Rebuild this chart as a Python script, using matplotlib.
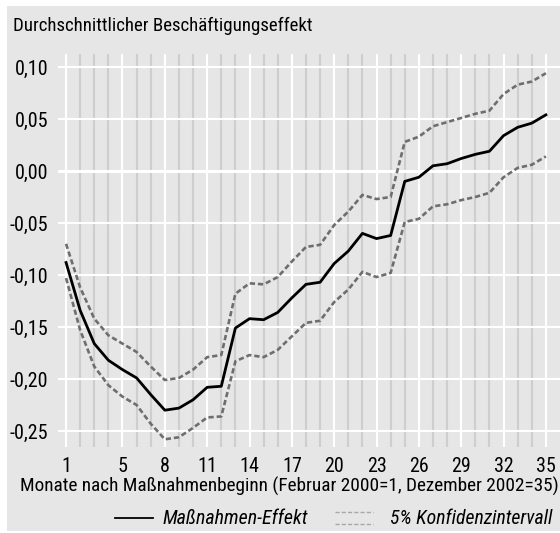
import matplotlib
matplotlib.use('Agg')
import matplotlib.pyplot as plt
from matplotlib import font_manager
from matplotlib.lines import Line2D
from matplotlib.patches import Rectangle

# schmale Schrift suchen, sonst Liberation Sans
available = {f.name for f in font_manager.fontManager.ttflist}
family = 'Liberation Sans'
for name in ['Liberation Sans Narrow', 'DejaVu Sans Condensed', 'Roboto Condensed',
             'Open Sans Condensed', 'Noto Sans Condensed']:
    if name in available:
        family = name
        break
plt.rcParams['font.family'] = [family, 'DejaVu Sans']

# Monate nach Maßnahmenbeginn
months = list(range(1, 36))

# durchschnittlicher Beschäftigungseffekt
effect = [-0.088, -0.134, -0.166, -0.182, -0.191, -0.199, -0.215, -0.230, -0.228, -0.220,
          -0.208, -0.207, -0.151, -0.142, -0.143, -0.136, -0.122, -0.109, -0.107, -0.089,
          -0.077, -0.060, -0.065, -0.062, -0.010, -0.006, 0.005, 0.007, 0.012, 0.016,
          0.019, 0.034, 0.042, 0.046, 0.054]

# obere Grenze 5%-Konfidenzintervall
upper = [-0.070, -0.112, -0.142, -0.158, -0.166, -0.174, -0.188, -0.201, -0.199, -0.191,
         -0.179, -0.177, -0.118, -0.108, -0.109, -0.102, -0.087, -0.073, -0.071, -0.052,
         -0.039, -0.023, -0.027, -0.025, 0.028, 0.033, 0.043, 0.047, 0.051, 0.055,
         0.058, 0.074, 0.083, 0.086, 0.094]

# untere Grenze 5%-Konfidenzintervall
lower = [-0.103, -0.153, -0.188, -0.206, -0.217, -0.225, -0.243, -0.258, -0.256, -0.247,
         -0.237, -0.236, -0.183, -0.177, -0.179, -0.172, -0.159, -0.146, -0.144, -0.126,
         -0.114, -0.097, -0.102, -0.098, -0.049, -0.046, -0.034, -0.032, -0.028, -0.025,
         -0.021, -0.006, 0.003, 0.006, 0.014]

xticks = [1, 5, 8, 11, 14, 17, 20, 23, 26, 29, 32, 35]
yticks = [0.10, 0.05, 0.00, -0.05, -0.10, -0.15, -0.20, -0.25]
ytick_labels = ['0,10', '0,05', '0,00', '-0,05', '-0,10', '-0,15', '-0,20', '-0,25']

W, H = 560, 533
fig = plt.figure(figsize=(W / 100, H / 100), dpi=100)
fig.patch.set_facecolor('white')
fig.add_artist(Rectangle((7 / W, 2 / H), 1 - 7 / W, 1 - 8 / H, transform=fig.transFigure,
                         facecolor='#e6e6e6', edgecolor='none', zorder=-10))

ax = fig.add_axes([58 / W, 1 - 447 / H, 1 - 58 / W, (447 - 54) / H])
ax.set_facecolor('none')
for s in ax.spines.values():
    s.set_visible(False)

# Gitter
for m in months:
    if m in xticks:
        ax.axvline(m, color='white', lw=1.5, zorder=1)
    else:
        ax.axvline(m, color='#cecece', lw=1.5, zorder=1)
for y in yticks:
    ax.axhline(y, color='white', lw=2.2 if y == 0 else 1.5, zorder=2)

ax.plot(months, upper, color='#6e6e6e', lw=1.9, dashes=(2, 1.1), zorder=3)
ax.plot(months, lower, color='#6e6e6e', lw=1.9, dashes=(2, 1.1), zorder=3)
ax.plot(months, effect, color='black', lw=2.0, zorder=4)

ax.set_xlim(0.43, 36.0)
ax.set_ylim(-0.2654, 0.1125)
ax.set_xticks(xticks)
ax.set_xticklabels([str(t) for t in xticks])
ax.set_yticks(yticks)
ax.set_yticklabels(ytick_labels)
ax.tick_params(length=0, colors='black')
ax.tick_params(axis='x', pad=7)
ax.tick_params(axis='y', pad=7)

title = fig.text(13 / W, 1 - 26 / H, 'Durchschnittlicher Beschäftigungseffekt', fontsize=13,
                 ha='left', va='center', color='black')
xlab = fig.text(289 / W, 1 - 486 / H, 'Monate nach Maßnahmenbeginn (Februar 2000=1, Dezember 2002=35)',
                fontsize=13, ha='center', va='center', color='black')

# Legende
ly = 1 - 518 / H
fig.add_artist(Line2D([115 / W, 153 / W], [ly, ly], color='black', lw=1.3, transform=fig.transFigure))
leg1 = fig.text(163 / W, ly, 'Maßnahmen-Effekt', fontsize=13, style='italic', ha='left', va='center',
                color='black')
for dy in (-6, 6):
    yy = 1 - (518 + dy) / H
    fig.add_artist(Line2D([335 / W, 373 / W], [yy, yy], color='#a8a8a8', lw=1.0,
                          dashes=(3, 1.5), transform=fig.transFigure))
leg2 = fig.text(390 / W, ly, '5% Konfidenzintervall', fontsize=13, style='italic', ha='left',
                va='center', color='black')

# Schriftgrößen an die Textbreiten der Vorlage anpassen
fig.canvas.draw()
r = fig.canvas.get_renderer()
for t, target in [(title, 299), (xlab, 538), (leg1, 145), (leg2, 162)]:
    w = t.get_window_extent(r).width
    t.set_fontsize(t.get_fontsize() * target / w)
ax.tick_params(labelsize=xlab.get_fontsize() * 1.04)

fig.savefig('out.png', dpi=100)
